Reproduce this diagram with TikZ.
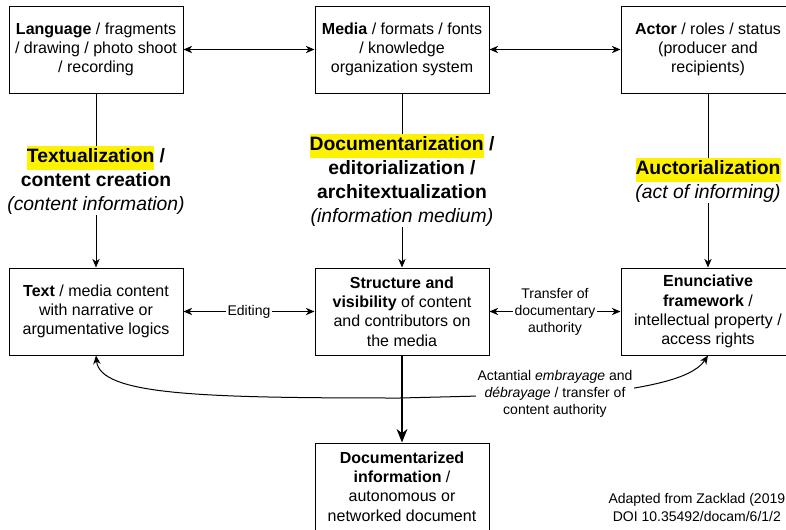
\documentclass[tikz,border=0pt]{standalone}
\usepackage{fontspec}
\setmainfont{Liberation Sans}
\usepackage{tikz}
\usetikzlibrary{positioning, arrows.meta}
\tikzset{
	node distance=130.5pt and 98.25pt,
	>={Stealth[length=6.5pt,width=5.5pt,inset=2pt]},
	every text node part/.style= {
		align=center
	},
	block/.style= {
		rectangle,
		draw=black,
		line width=0.75pt,
		fill=white,
		minimum width=130.5pt,
		minimum height=65.25pt,
		inner sep=1pt,
		font=\fontsize{12}{14.4}\selectfont
	},
	process/.style= {
		fill=white,
		inner sep=0pt,
		font=\fontsize{14.5}{18}\selectfont\bfseries
	},
	edgelabel/.style= {
		fill=white,
		inner sep=1pt,
		font=\fontsize{10.5}{12.75}\selectfont
	}
}
\newcommand{\hilite}[1]{\begingroup\setlength{\fboxsep}{0pt}\colorbox{yellow}{\strut #1}\endgroup}

\begin{document}
\begin{tikzpicture}[x=0.75pt, y=-0.75pt, line width=0.75pt]
		\useasboundingbox (0,0) rectangle (786,529);
		
		% top row
		\node (language)[block] at (96,49.5) {\textbf{Language} / fragments\\/ drawing / photo shoot\\/ recording};
		\node (media)[block, right = of language] {\textbf{Media} / formats / fonts\\/ knowledge\\organization system};
		\node (actor)[block, right = of media] {\textbf{Actor} / roles / status\\(producer and\\recipients)};
		\draw[<->] (language) to (media);
		\draw[<->] (media) to (actor);
		
		% middle row
		\node (text)[block, below = of language] {\textbf{Text} / media content\\with narrative or\\argumentative logics};
		\node (structure)[block, below = of media] {\textbf{Structure and}\\\textbf{visibility} of content\\and contributors on\\the media};
		\node (framework)[block, below = of actor] {\textbf{Enunciative}\\\textbf{framework} /\\intellectual property /\\access rights};
		
		\node (docinfo)[block, below = 65.25pt of structure] {\textbf{Documentarized}\\\textbf{information} /\\autonomous or\\networked document};
		
		% processes
		\draw[->] (language) to node[process] {\hilite{Textualization} /\\content creation\\\textnormal{\textit{(content information)}}} (text);
		\draw[->] (media) to node[process] {\hilite{Documentarization} /\\editorialization /\\architextualization\\\textnormal{\textit{(information medium)}}} (structure);
		\draw[->] (actor) to node[process] {\hilite{Auctorialization}\\\textnormal{\textit{(act of informing)}}} (framework);
		
		\draw[<->] (text) to node[edgelabel] {Editing} (structure);
		\draw[<->] (structure) to node[edgelabel] {Transfer of\\documentary\\authority} (framework);
		
		\draw[<->] (text.south) .. controls (100,395) and (200,398) .. (400,398)
			-- node[edgelabel, pos=0.775] {Actantial \textit{embrayage} and\\\textit{débrayage} / transfer of\\content authority} (600,393)
			.. controls (665,385) and (695,375) .. (framework.south);
		
		\draw[-{Stealth[length=10pt,width=8pt,inset=3pt]}, line width=1.5pt] (structure) to (docinfo);
		
		\node (credit)[anchor=west, align=left, inner sep=0pt, font=\fontsize{10.5}{13.5}\selectfont] at (608,507) {Adapted from Zacklad (2019\\DOI 10.35492/docam/6/1/2};
	\end{tikzpicture}
\end{document}
